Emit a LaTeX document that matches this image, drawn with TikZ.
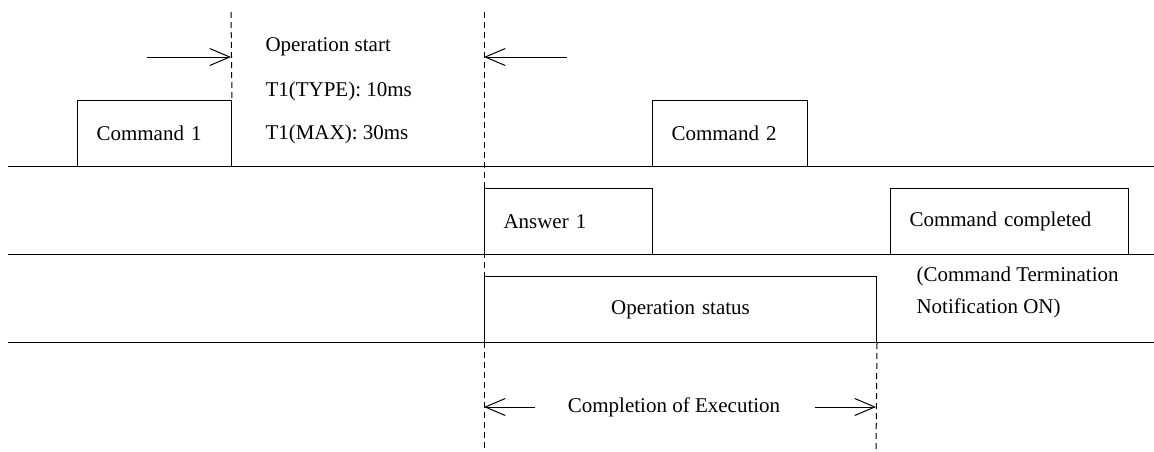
\documentclass[tikz,border=0pt]{standalone}
\usepackage{fontspec}
\setmainfont{Liberation Serif}
\usetikzlibrary{arrows.meta}

\begin{document}
\begin{tikzpicture}
    [x=1pt,y=-1pt,line width=1pt,font=\fontsize{21}{32}\selectfont,
     sigbox/.style={draw,anchor=north west,minimum height=66pt,inner xsep=19pt,align=left},
     marker/.style={dashed,dash pattern=on 6pt off 4pt},
     timearrow/.style={-{Straight Barb[length=20pt,width=17pt]}},
     every node/.style={inner sep=0pt}]
    \useasboundingbox (0,0) rectangle (1154,451);

    % time lines
    \draw (8,166) -- (1154,166);
    \draw (8,254) -- (1154,254);
    \draw (8,342) -- (1154,342);

    % signals
    \node[sigbox,inner xsep=19pt,text width=116pt] (cmdone) at (77,100) {Command 1};
    \node[sigbox,inner xsep=19pt,text width=117pt] (cmdtwo) at (652,100) {Command 2};
    \node[sigbox,inner xsep=19pt,text width=130pt] (ansone) at (484,188) {Answer 1};
    \node[sigbox,inner xsep=19pt,text width=200pt] (cmddone) at (890,188) {Command completed};
    \node[sigbox,inner xsep=19pt,text width=354pt,align=center] (opstatus) at (484,276) {Operation status};

    % labels
    \node[anchor=west] (opstart) at (265,47) {Operation start};
    \node[anchor=west] (ttype) at (265,91) {T1(TYPE): 10ms};
    \node[anchor=west] (tmax) at (265,134) {T1(MAX): 30ms};
    \node[anchor=west,align=left] (note) at (916,292) {(Command Termination\\Notification ON)};
    \node (compl) at (674,407) {Completion of Execution};

    % markers
    \coordinate (mone) at (231,12);
    \coordinate (mtwo) at (484,12);
    \coordinate (mtwoend) at (484,451);
    \coordinate (mthreeend) at (876,451);
    \draw[marker] (mone) -- (cmdone.north east);
    \draw[marker] (mtwo) -- (mtwoend);
    \draw[marker] (opstatus.south east) -- (mthreeend);

    % arrows
    \coordinate (aonestart) at (147,57);
    \coordinate (aoneend) at (231,57);
    \coordinate (atwostart) at (567,57);
    \coordinate (atwoend) at (484,57);
    \coordinate (cleft) at (484,407);
    \coordinate (cright) at (876,407);
    \path[timearrow] (aonestart) edge (aoneend);
    \path[timearrow] (atwostart) edge (atwoend);
    \path[timearrow] (compl.west) ++(-32,0) edge (cleft);
    \path[timearrow] (compl.east) ++(34,0) edge (cright);

  \end{tikzpicture}
\end{document}
